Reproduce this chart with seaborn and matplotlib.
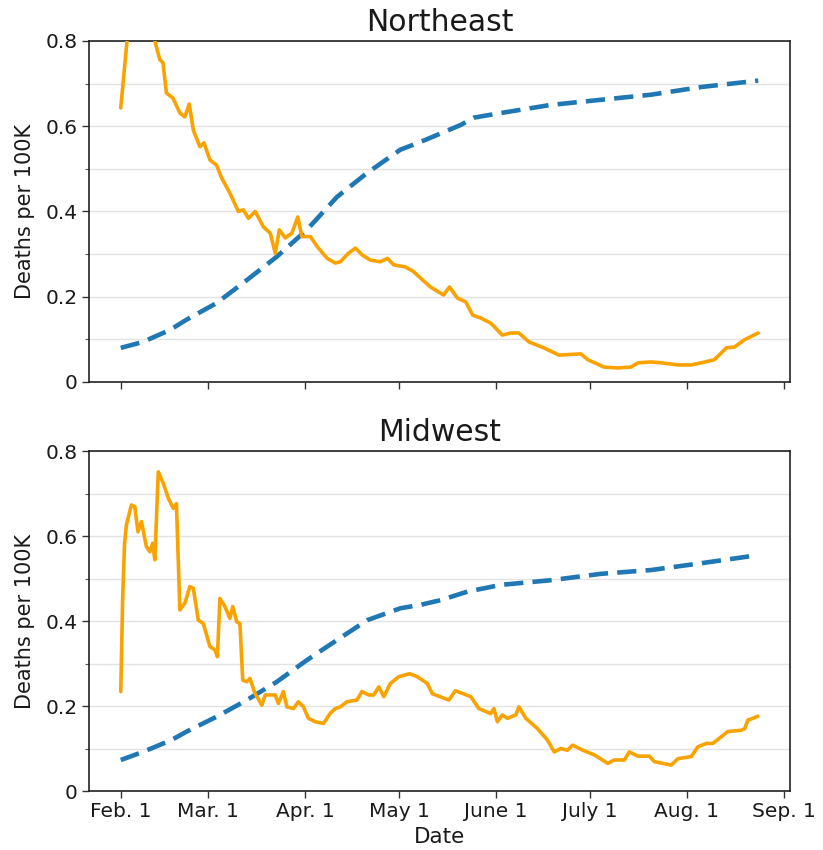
import numpy as np
import pandas as pd
import matplotlib
matplotlib.use("Agg")
import matplotlib.pyplot as plt
import matplotlib.ticker as mticker
import seaborn as sns

START = "2021-02-01"

# ---- Northeast ----
ne_orange_days = [0, 2, 4, 6, 8, 10.9, 12.5, 13.5, 14.6, 16.7, 18.9, 20.5, 21.9, 23.2, 25.3, 26.6,
                  28.5, 30.6, 32.3, 34.9, 37.6, 39.2, 40.8, 43, 45.6, 47.8, 49.4, 50.7, 52.6, 54.7,
                  56.6, 57.9, 60.6, 63.2, 66, 68.6, 70.2, 72.8, 75, 77.2, 79.8, 83, 85.3, 87.2, 91,
                  93.6, 95.8, 99, 103.2, 105.1, 107.6, 110.3, 112.5, 115.1, 118.3, 122, 124.7, 127.3,
                  130.5, 135.3, 140.1, 147.1, 149.4, 154.5, 159, 163.1, 165.4, 169.6, 172.8, 178.2,
                  182.4, 185.6, 189.7, 192, 193.6, 196.2, 199.4, 203.8]
ne_orange_vals = [0.643, 0.80, 0.86, 0.88, 0.86, 0.80, 0.756, 0.749, 0.678, 0.666, 0.631, 0.622, 0.652,
                  0.591, 0.552, 0.561, 0.521, 0.509, 0.478, 0.443, 0.400, 0.404, 0.384, 0.400, 0.364,
                  0.349, 0.302, 0.357, 0.338, 0.349, 0.387, 0.341, 0.341, 0.314, 0.290, 0.279, 0.282,
                  0.302, 0.314, 0.298, 0.286, 0.282, 0.290, 0.275, 0.270, 0.259, 0.244, 0.223, 0.204,
                  0.223, 0.197, 0.188, 0.157, 0.150, 0.138, 0.110, 0.115, 0.115, 0.094, 0.080, 0.063,
                  0.066, 0.052, 0.035, 0.033, 0.035, 0.045, 0.047, 0.045, 0.040, 0.040, 0.045, 0.052,
                  0.068, 0.080, 0.082, 0.099, 0.115]
ne_blue_days = [0, 7.1, 15.7, 21, 30.6, 40.3, 49.9, 59.5, 69.1, 78.7, 89.4, 95.8, 108.7, 112.8,
                121.5, 137.5, 153.5, 169.6, 185.6, 203.8]
ne_blue_vals = [0.080, 0.094, 0.122, 0.146, 0.185, 0.239, 0.294, 0.357, 0.434, 0.490, 0.545, 0.563,
                0.603, 0.620, 0.631, 0.650, 0.662, 0.674, 0.692, 0.707]

# ---- Midwest ----
mw_orange_days = [0, 0.6, 1.2, 1.8, 3.4, 4.5, 5.5, 6.6, 8.2, 9.3, 10.2, 10.9, 12, 13.6, 15.2, 16.8,
                  17.8, 18.9, 20.5, 22.1, 23.2, 24.8, 26.4, 28.5, 30.1, 30.9, 31.7, 33.3, 34.9, 35.8,
                  37.1, 38.1, 39, 40.3, 41.3, 42.9, 45.1, 46.2, 49.4, 50.4, 52, 53.1, 55.2, 56.8, 58.4,
                  60, 62.2, 64.8, 67, 68.6, 70.2, 72.3, 75.5, 77.1, 79.3, 80.9, 82.5, 84.1, 86.2, 88.9,
                  92.3, 94.8, 98, 99.6, 104.9, 107, 111.9, 114.5, 118.3, 119.3, 120.4, 122, 123.6,
                  126.3, 127.3, 129.5, 133.2, 136.4, 138.6, 140.7, 142.8, 144.5, 147.7, 151.4, 155.7,
                  157.8, 161, 162.6, 165.3, 169, 170.6, 176, 178.1, 182.4, 184.5, 187.2, 189.3, 194.1,
                  198.4, 199.5, 200.5, 202.1, 203.7]
mw_orange_vals = [0.234, 0.45, 0.58, 0.626, 0.673, 0.669, 0.610, 0.634, 0.575, 0.563, 0.583, 0.544,
                  0.751, 0.724, 0.689, 0.665, 0.676, 0.426, 0.442, 0.481, 0.477, 0.402, 0.394, 0.340,
                  0.332, 0.316, 0.453, 0.434, 0.406, 0.434, 0.398, 0.394, 0.261, 0.257, 0.265, 0.230,
                  0.202, 0.226, 0.226, 0.206, 0.234, 0.198, 0.194, 0.210, 0.198, 0.171, 0.163, 0.159,
                  0.183, 0.194, 0.198, 0.210, 0.214, 0.234, 0.226, 0.226, 0.245, 0.222, 0.253, 0.269,
                  0.276, 0.269, 0.253, 0.229, 0.214, 0.236, 0.222, 0.194, 0.182, 0.194, 0.163, 0.179,
                  0.171, 0.179, 0.198, 0.171, 0.147, 0.120, 0.092, 0.100, 0.096, 0.108, 0.096, 0.085,
                  0.065, 0.073, 0.073, 0.092, 0.082, 0.082, 0.069, 0.061, 0.076, 0.081, 0.104, 0.112,
                  0.112, 0.140, 0.143, 0.147, 0.167, 0.171, 0.176]
mw_blue_days = [0, 7.1, 16.2, 21.1, 30.7, 40.3, 49.9, 59.5, 69.1, 78.8, 89.4, 95.8, 102.2, 110.8,
                121.5, 137.5, 153.5, 169.6, 185.6, 203.7]
mw_blue_vals = [0.073, 0.092, 0.120, 0.140, 0.175, 0.214, 0.257, 0.308, 0.355, 0.402, 0.430, 0.438,
                0.449, 0.469, 0.485, 0.496, 0.511, 0.520, 0.536, 0.555]

titles = ["Northeast", "Midwest"]
tick_dates = ["2021-02-01", "2021-03-01", "2021-04-01", "2021-05-01", "2021-06-01",
              "2021-07-01", "2021-08-01", "2021-09-01"]
tick_labels = ["Feb. 1", "Mar. 1", "Apr. 1", "May 1", "June 1", "July 1", "Aug. 1", "Sep. 1"]


def to_dates(days):
    return pd.Timestamp(START) + pd.to_timedelta(np.asarray(days, dtype=float) * 86400, unit="s")


sns.set_style("white")
plt.rcParams["font.family"] = ["DejaVu Sans"]
plt.rcParams["text.color"] = "#1a1a1a"
plt.rcParams["axes.labelcolor"] = "#1a1a1a"
plt.rcParams["xtick.color"] = "#1a1a1a"
plt.rcParams["ytick.color"] = "#1a1a1a"

fig = plt.figure(figsize=(8.23, 8.5), dpi=100)
ax1 = fig.add_axes([0.108, 0.5506, 0.852, 0.4012])
ax2 = fig.add_axes([0.108, 0.0694, 0.852, 0.4000], sharex=ax1)

series = [
    (ne_orange_days, ne_orange_vals, ne_blue_days, ne_blue_vals),
    (mw_orange_days, mw_orange_vals, mw_blue_days, mw_blue_vals),
]

for ax, title, (od, ov, bd, bv) in zip([ax1, ax2], titles, series):
    sns.lineplot(x=to_dates(bd), y=bv, ax=ax, color="#1f77b4", linewidth=3.3,
                 linestyle=(0, (4.2, 2.0)), zorder=3)
    sns.lineplot(x=to_dates(od), y=ov, ax=ax, color="#f9a200", linewidth=2.6, zorder=4)
    ax.set_ylim(0, 0.8)
    ax.yaxis.set_major_locator(mticker.MultipleLocator(0.2))
    ax.yaxis.set_minor_locator(mticker.MultipleLocator(0.1))
    ax.yaxis.set_major_formatter(mticker.FuncFormatter(lambda v, p: "0" if abs(v) < 1e-9 else f"{v:.1f}"))
    ax.grid(True, which="both", axis="y", color="#e3e3e3", linewidth=1.0)
    ax.set_axisbelow(True)
    ax.tick_params(axis="both", which="major", direction="out", length=5, width=1,
                   labelsize=14.5, color="#333333", left=True, bottom=True, pad=3)
    ax.tick_params(axis="y", which="minor", direction="out", length=3, width=0.8,
                   color="#555555", left=True)
    for s in ax.spines.values():
        s.set_color("#222222")
        s.set_linewidth(1.2)
    ax.set_title(title, fontsize=21.5, pad=7)
    ax.set_ylabel("Deaths per 100K", fontsize=15, labelpad=8)
    ax.set_xlabel("")

ax2.set_xticks(pd.to_datetime(tick_dates))
ax2.set_xticklabels(tick_labels)
ax2.set_xlabel("Date", fontsize=15.5, labelpad=4)
plt.setp(ax1.get_xticklabels(), visible=False)

fig.savefig("out.png", dpi=100)
